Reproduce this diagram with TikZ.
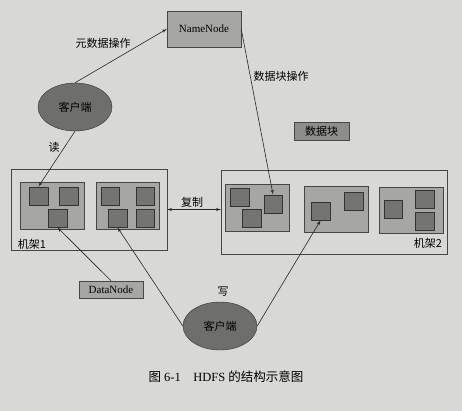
\documentclass[tikz,border=0pt]{standalone}
\usepackage{fontspec}
\setmainfont{Liberation Serif}
\newfontfamily\cjk{Noto Sans CJK SC}
\usetikzlibrary{arrows}
\usetikzlibrary{shapes}
\usetikzlibrary{positioning}

\definecolor{paper}{RGB}{216,216,213}
\definecolor{boxgray}{RGB}{166,166,164}
\definecolor{blkgray}{RGB}{116,116,114}
\definecolor{clientgray}{RGB}{110,110,108}
\definecolor{linegray}{RGB}{70,70,70}

\begin{document}
\begin{tikzpicture}[x=1pt, y=-1pt,
    every node/.style={font=\fontsize{11}{13}\selectfont},
    rack/.style={draw=linegray, rectangle, inner sep=0pt},
    dnode/.style={draw=linegray, fill=boxgray, rectangle, inner sep=0pt, minimum height=47pt, minimum width=64pt},
    blk/.style={draw=black!80, fill=blkgray, rectangle, inner sep=0pt, minimum size=18.5pt},
    client/.style={draw=black!80, fill=clientgray, ellipse, inner sep=0pt, minimum width=74pt, minimum height=48pt, font=\cjk\fontsize{11}{13}\selectfont},
    lbl/.style={font=\cjk\fontsize{11}{13}\selectfont, inner sep=1pt},
    conn/.style={draw=black!85, line width=0.6pt, ->, >=latex'}]
    \path[use as bounding box, fill=paper] (0, 0) rectangle (462, 411);

    % name node and clients
    \node[draw=linegray, fill=boxgray, minimum width=74pt, minimum height=36pt] (nn) at (204, 29) {NameNode};
    \node[client] (cA) at (75, 107) {客户端};
    \node[client] (cB) at (220, 326) {客户端};

    % rack 1
    \node[rack, minimum width=156pt, minimum height=81pt] (r1) at (89, 209.5) {};
    \node[dnode] (n11) at (52, 205.5) {};
    \node[dnode, minimum width=63pt] (n12) at (127.5, 205.5) {};
    \node[blk] (b111) at (38.5, 196) {};
    \node[blk] (b112) at (68.5, 196) {};
    \node[blk] (b113) at (57.5, 218) {};
    \node[blk] (b121) at (110, 196) {};
    \node[blk] (b122) at (145, 196) {};
    \node[blk] (b123) at (117.5, 218) {};
    \node[blk] (b124) at (145, 218) {};
    \node[lbl] (r1lbl) at (32, 244) {机架1};

    % rack 2
    \node[rack, minimum width=226pt, minimum height=84pt] (r2) at (334, 212) {};
    \node[dnode] (n21) at (257, 207.5) {};
    \node[dnode, minimum height=46pt] (n22) at (336, 209) {};
    \node[dnode, minimum height=46pt] (n23) at (411, 210) {};
    \node[blk] (b211) at (239.5, 197) {};
    \node[blk] (b212) at (273, 204) {};
    \node[blk] (b213) at (251.5, 218) {};
    \node[blk] (b221) at (320.5, 211) {};
    \node[blk] (b222) at (353.5, 201) {};
    \node[blk] (b231) at (393, 209) {};
    \node[blk] (b232) at (424.5, 199) {};
    \node[blk] (b233) at (424.5, 221) {};
    \node[lbl] (r2lbl) at (428, 243) {机架2};

    % legend boxes
    \node[draw=linegray, fill=boxgray!85!black, lbl, minimum width=55pt, minimum height=18pt] (blkkey) at (321.5, 131) {数据块};
    \node[draw=linegray, fill=boxgray, minimum width=64pt, minimum height=17pt, inner sep=0pt] (dn) at (111, 289.5) {DataNode};

    % connectors
    \draw[conn] (cA.north) -- (nn.west);
    \draw[conn] (nn.east) -- (b212.north);
    \draw[conn] (cA.south) -- (b111.north);
    \draw[conn] (dn.north) -- (b113.south);
    \draw[conn] (cB.west) -- (b123.south);
    \draw[conn] (cB.east) -- (b221.south);
    \draw[conn, <->] (r1.east) -- (r2.west |- r1.east);

    % connector labels
    \node[lbl] (lmeta) at (103, 43) {元数据操作};
    \node[lbl] (lblock) at (281, 76) {数据块操作};
    \node[lbl] (lread) at (54, 147) {读};
    \node[lbl] (lwrite) at (223, 292) {写};
    \node[lbl] (lcopy) at (192, 202) {复制};

    % caption
    \node[font=\fontsize{12.5}{14}\selectfont] (cap) at (226, 377) {{\cjk 图} 6-1\hspace{1em}HDFS {\cjk 的结构示意图}};
\end{tikzpicture}
\end{document}
